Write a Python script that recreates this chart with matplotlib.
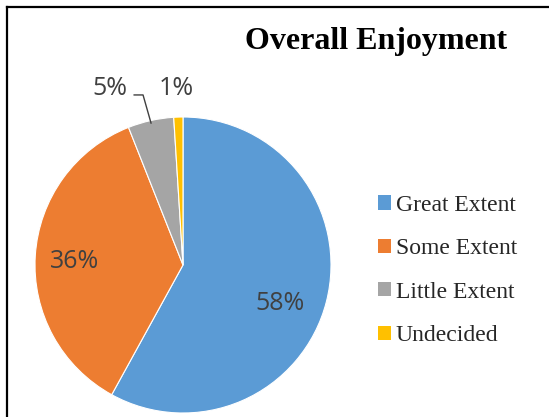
import matplotlib
matplotlib.use("Agg")
import matplotlib.pyplot as plt
from matplotlib.lines import Line2D

# ── Data ──────────────────────────────────────────────────────
categories = ["Great Extent", "Some Extent", "Little Extent", "Undecided"]
shares     = [58, 36, 5, 1]
colors     = ["#5B9BD5", "#ED7D31", "#A5A5A5", "#FFC000"]
title      = "Overall Enjoyment"

# label positions inside/around the pie (data units, radius = 1)
label_pos = [(0.655, -0.257), (-0.736, 0.027), (-0.493, 1.19), (-0.047, 1.19)]

W, H = 549, 417
fig = plt.figure(figsize=(W / 100, H / 100), dpi=100)
fig.patch.set_facecolor("white")

# pie axes: centre (183, 265) px, radius 148 px
cx, cy, r = 183, 265, 148
ax = fig.add_axes([(cx - r) / W, (H - cy - r) / H, 2 * r / W, 2 * r / H])

wedges, _, autotexts = ax.pie(
    shares, colors=colors, startangle=90, counterclock=False,
    autopct=lambda p: f"{p:.0f}%", pctdistance=0.7,
    wedgeprops=dict(edgecolor="white", linewidth=0.8),
    textprops=dict(family="Open Sans", fontsize=18, color="#404040"),
)
for t, (x, y) in zip(autotexts, label_pos):
    t.set_position((x, y))
    t.set_ha("center")
    t.set_va("center")
ax.set_xlim(-1, 1)
ax.set_ylim(-1, 1)
ax.set_aspect("auto")

# leader line from "5%" down to its slice
ax.plot([-0.33, -0.27, -0.216], [1.149, 1.149, 0.959],
        color="#404040", lw=1.0, clip_on=False)

# ── Title ─────────────────────────────────────────────────────
fig.text(376 / W, 1 - 41 / H, title, ha="center", va="center",
         family="Liberation Serif", fontweight="bold", fontsize=23)

# ── Legend ────────────────────────────────────────────────────
leg = fig.legend(wedges, categories, loc="upper left",
                 bbox_to_anchor=(366 / W, 1 - 183 / H),
                 frameon=False, handlelength=0.55, handleheight=0.55,
                 handletextpad=0.2, labelspacing=0.95, borderpad=0,
                 prop=dict(family="Liberation Serif", size=17))
for h in leg.legend_handles:
    h.set_edgecolor("none")
for t in leg.get_texts():
    t.set_color("#262626")

# ── Frame lines (left and top) ────────────────────────────────
fig.add_artist(Line2D([6.5 / W, 6.5 / W], [0, 1 - 7 / H],
                      transform=fig.transFigure, color="black", lw=1.6))
fig.add_artist(Line2D([6.5 / W, 1], [1 - 7 / H, 1 - 7 / H],
                      transform=fig.transFigure, color="black", lw=1.6))

fig.savefig("out.png", dpi=100, facecolor="white")
